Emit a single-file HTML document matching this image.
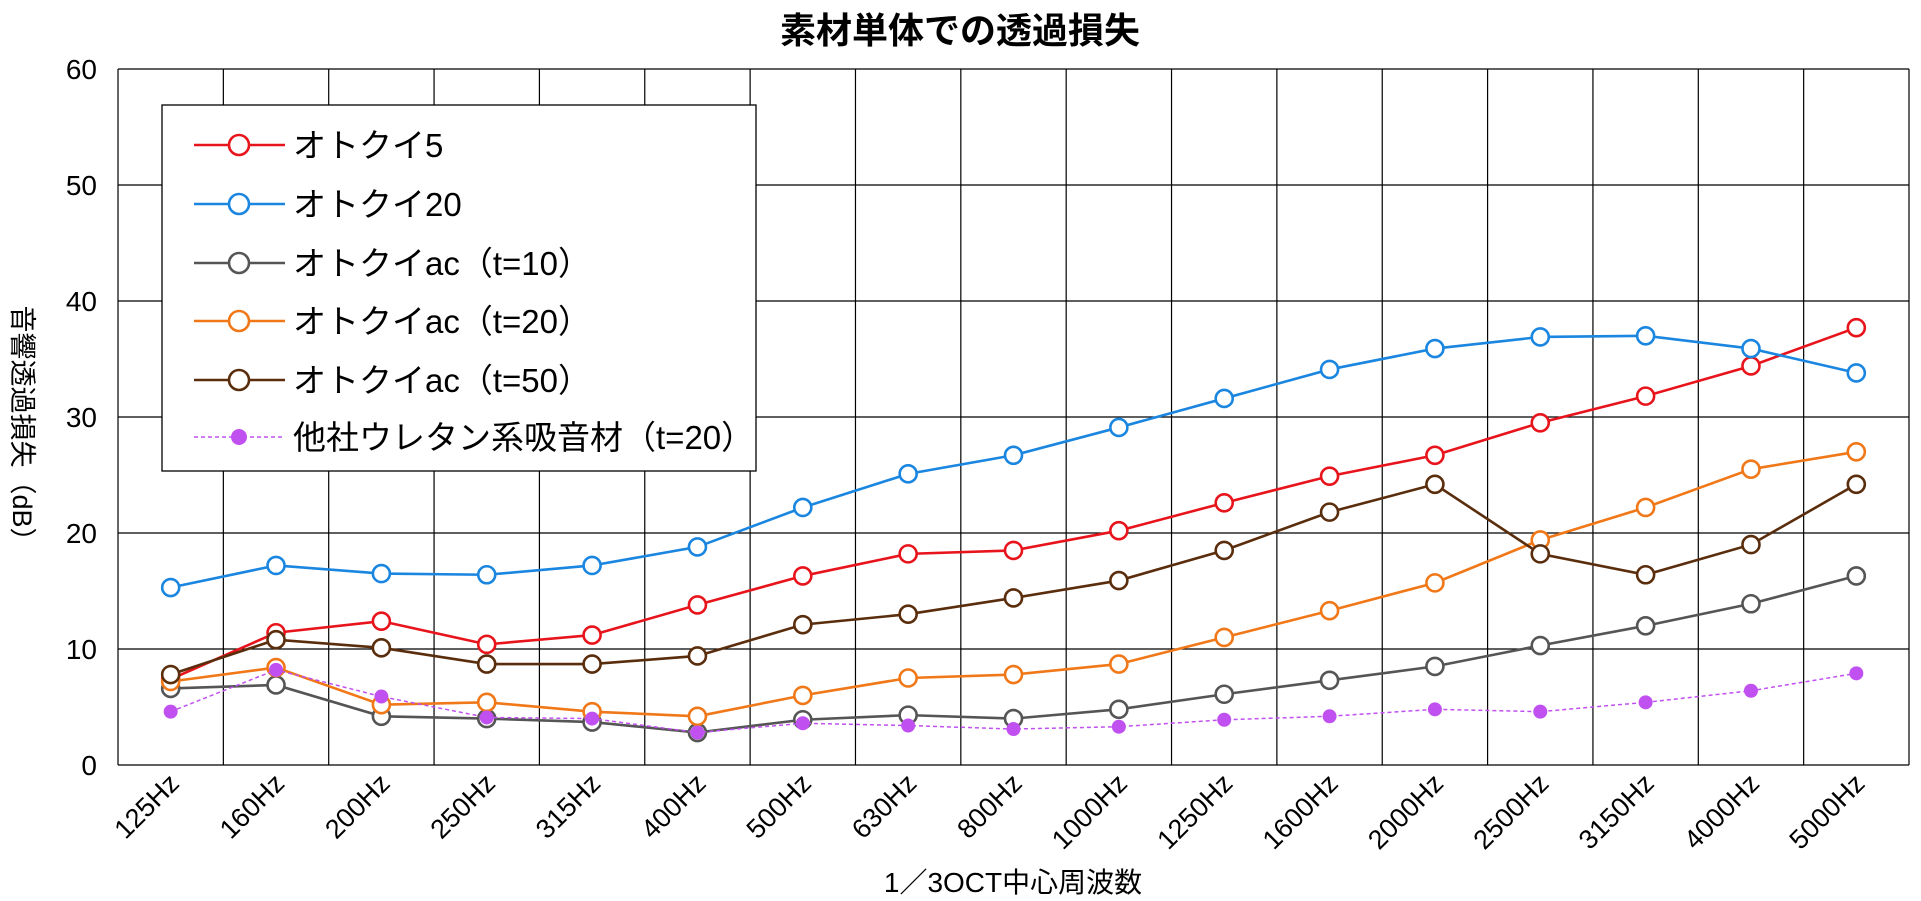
<!DOCTYPE html>
<html><head><meta charset="utf-8"><style>
html,body{margin:0;padding:0;background:#fff;}
svg{display:block;font-family:"Liberation Sans","Noto Sans CJK JP",sans-serif;}
</style></head><body>
<svg id="c" width="1921" height="901" xmlns="http://www.w3.org/2000/svg"></svg>
<script>
const S=document.getElementById('c');const NS='http://www.w3.org/2000/svg';
function el(t,a,txt){const e=document.createElementNS(NS,t);for(const k in a)e.setAttribute(k,a[k]);if(txt!==undefined)e.textContent=txt;S.appendChild(e);return e;}
const L=118,R=1909,T=69,B=765,n=17,cw=(R-L)/n;
const y=v=>B-(B-T)*v/60, x=i=>L+cw*(i+0.5);
el('text',{x:960,y:43,'text-anchor':'middle','font-size':36,'font-weight':'bold'},'素材単体での透過損失');
for(let k=0;k<=6;k++){el('line',{x1:L,x2:R,y1:y(k*10),y2:y(k*10),stroke:'#000','stroke-width':1.2});
 el('text',{x:97,y:y(k*10)+10,'text-anchor':'end','font-size':28},k*10);}
for(let i=0;i<=n;i++){el('line',{x1:L+cw*i,x2:L+cw*i,y1:T,y2:B,stroke:'#000','stroke-width':1.2});}
const labs=['125Hz','160Hz','200Hz','250Hz','315Hz','400Hz','500Hz','630Hz','800Hz','1000Hz','1250Hz','1600Hz','2000Hz','2500Hz','3150Hz','4000Hz','5000Hz'];
labs.forEach((s,i)=>{const cx=x(i)+10,cy=B+20;el('text',{x:cx,y:cy,'text-anchor':'end','font-size':27,transform:`rotate(-45 ${cx} ${cy})`},s);});
el('text',{x:1013,y:892,'text-anchor':'middle','font-size':28},'1／3OCT中心周波数');
el('text',{x:0,y:0,'text-anchor':'middle','font-size':27,transform:'translate(13,430) rotate(90)'},'音響透過損失（dB）');
const series=[
['#e8141c',[7.4,11.4,12.4,10.4,11.2,13.8,16.3,18.2,18.5,20.2,22.6,24.9,26.7,29.5,31.8,34.4,37.7],'オトクイ5'],
['#1a86e0',[15.3,17.2,16.5,16.4,17.2,18.8,22.2,25.1,26.7,29.1,31.6,34.1,35.9,36.9,37.0,35.9,33.8],'オトクイ20'],
['#555555',[6.6,6.9,4.2,4.0,3.7,2.8,3.9,4.3,4.0,4.8,6.1,7.3,8.5,10.3,12.0,13.9,16.3],'オトクイac（t=10）'],
['#f07818',[7.2,8.4,5.2,5.4,4.6,4.2,6.0,7.5,7.8,8.7,11.0,13.3,15.7,19.4,22.2,25.5,27.0],'オトクイac（t=20）'],
['#5a2d0c',[7.8,10.8,10.1,8.7,8.7,9.4,12.1,13.0,14.4,15.9,18.5,21.8,24.2,18.2,16.4,19.0,24.2],'オトクイac（t=50）'],
['#c050f0',[4.6,8.2,5.9,4.1,4.0,2.8,3.6,3.4,3.1,3.3,3.9,4.2,4.8,4.6,5.4,6.4,7.9],'他社ウレタン系吸音材（t=20）']];
series.forEach(([c,d],si)=>{const dash=si==5;
 el('polyline',{points:d.map((v,i)=>x(i)+','+y(v)).join(' '),fill:'none',stroke:c,'stroke-width':dash?1.5:2.6,'stroke-dasharray':dash?'4 3':'none'});
 d.forEach((v,i)=>dash?el('circle',{cx:x(i),cy:y(v),r:7,fill:c}):el('circle',{cx:x(i),cy:y(v),r:8.5,fill:'#fff',stroke:c,'stroke-width':2.6}));});
el('rect',{x:162,y:105,width:594,height:366,fill:'#fff',stroke:'#000','stroke-width':1.3});
const ly=[145,204,263,321,380,437];
series.forEach(([c,,name],si)=>{const dash=si==5,yy=ly[si];
 el('line',{x1:194,x2:285,y1:yy,y2:yy,stroke:c,'stroke-width':dash?1.5:2.6,'stroke-dasharray':dash?'4 3':'none'});
 dash?el('circle',{cx:239,cy:yy,r:8,fill:c}):el('circle',{cx:239,cy:yy,r:10,fill:'#fff',stroke:c,'stroke-width':2.6});
 el('text',{x:293,y:yy+12,'font-size':33},name);});
</script>
</body></html>
